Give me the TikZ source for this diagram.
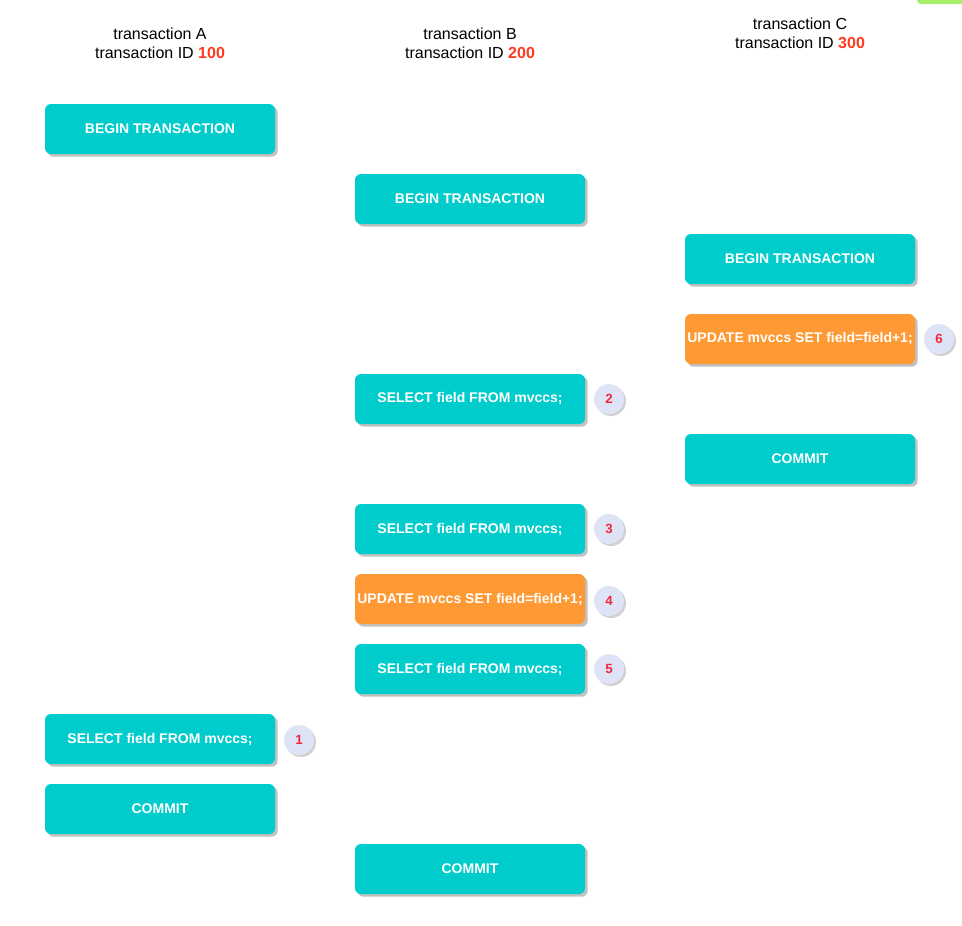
\documentclass[tikz,border=0pt]{standalone}
\usepackage{fontspec}
\setmainfont{Liberation Sans}
\usetikzlibrary{shadows}
\definecolor{boxcyan}{RGB}{0,204,204}
\definecolor{boxorange}{RGB}{255,153,51}
\definecolor{idred}{RGB}{255,59,31}
\definecolor{numred}{RGB}{240,40,60}
\definecolor{circfill}{RGB}{222,228,246}
\definecolor{greenbar}{RGB}{170,238,110}
\tikzset{
  px/.style={x=0.75pt,y=-0.75pt},
  opbox/.style={rounded corners=4.5pt, minimum width=172.5pt, minimum height=37.5pt,
    inner sep=0pt, text=white, font=\bfseries\fontsize{10.5}{12}\selectfont,
    drop shadow={shadow xshift=2pt, shadow yshift=-2pt, fill=black!35, opacity=0.7}},
  cyanbox/.style={opbox, fill=boxcyan},
  orangebox/.style={opbox, fill=boxorange},
  numcirc/.style={circle, minimum size=22.5pt, inner sep=0pt, fill=circfill,
    text=numred, font=\bfseries\fontsize{10}{11}\selectfont,
    drop shadow={shadow xshift=1.5pt, shadow yshift=-1.5pt, fill=black!30, opacity=0.6}},
  header/.style={align=center, font=\fontsize{12}{14.25}\selectfont}
}
\begin{document}
\begin{tikzpicture}[px]
\useasboundingbox (0,0) rectangle (962,925);
\begin{scope}
\clip (0,0) rectangle (962,925);
\fill[greenbar, rounded corners=3pt] (917,-20) rectangle (1010,4);
\end{scope}
% headers
\node[header] (hA) at (160,43) {transaction A\\transaction ID \textcolor{idred}{\bfseries 100}};
\node[header] (hB) at (470,43) {transaction B\\transaction ID \textcolor{idred}{\bfseries 200}};
\node[header] (hC) at (800,33) {transaction C\\transaction ID \textcolor{idred}{\bfseries 300}};
% transaction A
\node[cyanbox] (a1) at (160,129) {BEGIN TRANSACTION};
\node[cyanbox] (a2) at (160,739) {SELECT field FROM mvccs;};
\node[numcirc] (n1) at (299,740) {1};
\node[cyanbox] (a3) at (160,809) {COMMIT};
% transaction B
\node[cyanbox] (b1) at (470,199) {BEGIN TRANSACTION};
\node[cyanbox] (b2) at (470,399) {SELECT field FROM mvccs;};
\node[numcirc] (n2) at (609,399) {2};
\node[cyanbox] (b3) at (470,529) {SELECT field FROM mvccs;};
\node[numcirc] (n3) at (609,529) {3};
\node[orangebox] (b4) at (470,599) {UPDATE mvccs SET field=field+1;};
\node[numcirc] (n4) at (609,601) {4};
\node[cyanbox] (b5) at (470,669) {SELECT field FROM mvccs;};
\node[numcirc] (n5) at (609,669) {5};
\node[cyanbox] (b6) at (470,869) {COMMIT};
% transaction C
\node[cyanbox] (c1) at (800,259) {BEGIN TRANSACTION};
\node[orangebox] (c2) at (800,339) {UPDATE mvccs SET field=field+1;};
\node[numcirc] (n6) at (939,339) {6};
\node[cyanbox] (c3) at (800,459) {COMMIT};
\end{tikzpicture}
\end{document}
